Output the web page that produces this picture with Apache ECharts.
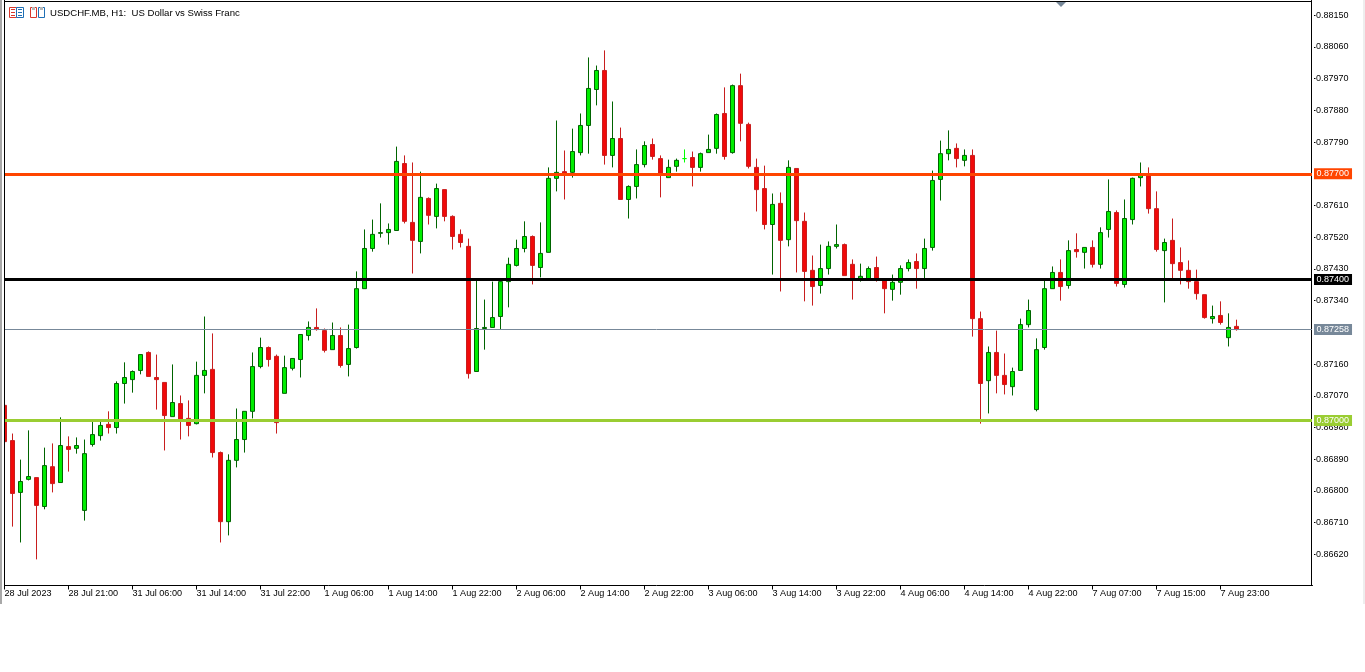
<!DOCTYPE html>
<html><head><meta charset="utf-8">
<style>html,body{margin:0;padding:0;background:#fff}#c{width:1365px;height:672px}</style>
<script src="https://cdn.jsdelivr.net/npm/echarts@6/dist/echarts.min.js"></script>
</head><body><div id="c"></div>
<script>
// prices in 1e-5 points
const opens=[87043,86943,86796,86833,86838,86756,86869,86824,86926,86921,86745,86932,86957,86989,86980,87105,87116,87142,87193,87122,87108,87011,87048,87006,86991,87128,87145,86909,86713,86887,86946,87026,87153,87207,87182,87077,87148,87173,87241,87264,87255,87201,87241,87159,87207,87374,87488,87531,87533,87539,87729,87562,87508,87630,87579,87655,87579,87528,87494,87139,87261,87264,87295,87394,87440,87488,87522,87434,87477,87687,87706,87704,87760,87837,87939,87993,87752,87800,87627,87664,87726,87783,87743,87689,87721,87743,87746,87718,87760,87772,87871,87760,87950,87840,87718,87658,87556,87616,87513,87715,87565,87426,87383,87431,87494,87499,87443,87400,87400,87434,87400,87372,87392,87431,87451,87431,87491,87684,87757,87772,87738,87752,87289,87113,87193,87128,87096,87142,87272,87031,87207,87374,87420,87383,87485,87477,87491,87443,87542,87590,87386,87570,87689,87700,87601,87482,87511,87448,87426,87394,87357,87289,87298,87235,87267];
const closes=[86940,86793,86827,86841,86759,86872,86821,86929,86918,86929,86906,86960,86986,86980,87105,87122,87139,87187,87125,87116,87014,87051,87000,86986,87128,87142,86909,86713,86887,86946,87026,87153,87207,87173,86994,87150,87176,87244,87264,87258,87199,87241,87156,87204,87374,87488,87528,87533,87542,87735,87565,87511,87633,87582,87658,87579,87522,87505,87133,87261,87264,87292,87394,87443,87488,87522,87440,87474,87687,87704,87695,87763,87837,87942,87993,87752,87800,87627,87664,87726,87780,87749,87698,87718,87738,87743,87718,87757,87769,87868,87749,87950,87843,87721,87655,87556,87613,87511,87718,87567,87423,87380,87431,87494,87499,87411,87400,87409,87431,87400,87374,87392,87431,87448,87431,87488,87681,87757,87769,87743,87752,87289,87105,87193,87128,87102,87139,87272,87312,87201,87374,87420,87380,87482,87479,87491,87443,87533,87593,87389,87573,87687,87700,87601,87485,87505,87445,87426,87394,87360,87292,87295,87278,87264,87258];
const highs=[87043,86963,86889,86972,86838,86923,86935,87009,86955,86952,86946,87000,86997,87026,87111,87165,87142,87187,87196,87187,87108,87159,87071,87057,87167,87295,87247,86912,86904,87034,87026,87193,87235,87210,87187,87184,87176,87244,87281,87318,87261,87278,87264,87272,87423,87542,87570,87616,87559,87777,87752,87732,87706,87633,87672,87655,87582,87542,87516,87397,87343,87394,87400,87462,87513,87565,87525,87562,87718,87851,87766,87828,87871,88030,88007,88050,87905,87831,87667,87769,87792,87800,87752,87740,87743,87769,87763,87760,87811,87871,87945,87953,87984,87845,87743,87723,87644,87647,87738,87715,87590,87468,87499,87508,87556,87502,87457,87445,87437,87465,87400,87414,87440,87457,87474,87516,87709,87794,87823,87786,87769,87769,87309,87210,87255,87190,87150,87289,87343,87233,87397,87437,87457,87511,87531,87491,87511,87548,87684,87596,87627,87689,87732,87718,87650,87516,87573,87491,87454,87428,87357,87326,87338,87304,87286];
const lows=[86940,86699,86654,86830,86606,86748,86796,86824,86855,86906,86716,86926,86943,86963,86963,87048,87079,87131,87125,87031,86915,87011,86946,86955,86989,87077,86895,86654,86674,86867,86909,87006,87148,87153,86963,87077,87142,87122,87227,87255,87193,87201,87150,87125,87204,87374,87479,87519,87499,87539,87559,87417,87474,87556,87545,87565,87485,87491,87119,87139,87201,87264,87258,87321,87437,87477,87386,87406,87477,87650,87627,87689,87752,87757,87894,87726,87718,87627,87573,87630,87718,87740,87633,87689,87706,87732,87664,87706,87760,87757,87740,87757,87792,87715,87593,87542,87414,87366,87494,87420,87338,87326,87360,87414,87488,87411,87343,87394,87397,87394,87304,87340,87357,87423,87374,87400,87482,87624,87738,87718,87721,87238,86991,87020,87077,87074,87071,87142,87264,87026,87201,87374,87340,87374,87462,87431,87434,87431,87519,87380,87377,87556,87664,87587,87479,87335,87403,87386,87374,87343,87289,87275,87272,87210,87255];

const xTickLabels=['28 Jul 2023','28 Jul 21:00','31 Jul 06:00','31 Jul 14:00','31 Jul 22:00','1 Aug 06:00','1 Aug 14:00','1 Aug 22:00','2 Aug 06:00','2 Aug 14:00','2 Aug 22:00','3 Aug 06:00','3 Aug 14:00','3 Aug 22:00','4 Aug 06:00','4 Aug 14:00','4 Aug 22:00','7 Aug 07:00','7 Aug 15:00','7 Aug 23:00'];
const yTicks=[0.8815,0.8806,0.8797,0.8788,0.8779,0.877,0.8761,0.8752,0.8743,0.8734,0.8725,0.8716,0.8707,0.8698,0.8689,0.868,0.8671,0.8662];
const levelPrices=[0.87,0.87258,0.874,0.877];
const levelColors=['#9acd32','#778899','#000000','#ff4500'];
const levelWidths=[3,1,3,3];
const title='USDCHF.MB, H1:  US Dollar vs Swiss Franc';
const barSlots=164, labelEvery=8;

const categories=Array.from({length:barSlots},(_,i)=>i%labelEvery===0?(xTickLabels[i/labelEvery]||''):'');
const candles=opens.map((o,i)=>[o/1e5,closes[i]/1e5,lows[i]/1e5,highs[i]/1e5]);
const FONT='"Liberation Sans"';
const rect=(x,y,w,h,fill)=>({type:'rect',shape:{x,y,width:w,height:h},style:{fill},z:100,silent:true});
const box=(x,y,w,h,stroke)=>({type:'rect',shape:{x:x+.5,y:y+.5,width:w-1,height:h-1},style:{fill:'#fff',stroke,lineWidth:1},z:100,silent:true});

const chart=echarts.init(document.getElementById('c'),null,{renderer:'canvas'});
chart.setOption({
  animation:false,
  backgroundColor:'#fff',
  grid:{left:0.5,top:0.5,width:1312,height:585,containLabel:false},
  xAxis:{type:'category',data:categories,boundaryGap:true,
    axisLine:{show:true,lineStyle:{color:'#000',width:1}},
    axisTick:{show:true,alignWithLabel:true,interval:i=>i%labelEvery===0&&!!categories[i],length:4,lineStyle:{color:'#000'}},
    axisLabel:{interval:labelEvery-1,hideOverlap:false,showMinLabel:true,align:'left',margin:3,color:'#000',fontFamily:FONT,fontSize:9.1},
    splitLine:{show:false}},
  yAxis:{type:'value',position:'right',offset:-1,min:0.865319,max:0.881915,scale:true,
    axisLine:{show:true,onZero:false,lineStyle:{color:'#000',width:1}},
    axisTick:{show:true,length:4,customValues:yTicks,lineStyle:{color:'#000'}},
    axisLabel:{customValues:yTicks,margin:4.5,color:'#000',fontFamily:FONT,fontSize:9,formatter:v=>v.toFixed(5)},
    splitLine:{show:false}},
  series:[{type:'candlestick',data:candles,barWidth:4,clip:false,
    itemStyle:{color:'#00ee00',color0:'#f00a0a',borderColor:'#006400',borderColor0:'#c81e1e',borderColorDoji:'#00ff00',borderWidth:1},
    markLine:{silent:true,symbol:'none',animation:false,precision:5,
      data:levelPrices.map((p,i)=>({yAxis:p,
        lineStyle:{color:levelColors[i],width:levelWidths[i],type:'solid'},
        label:{show:true,position:'end',distance:1,formatter:p.toFixed(5),color:'#fff',backgroundColor:levelColors[i],padding:[1,3,1,3],fontFamily:FONT,fontSize:9}
      }))}}],
  graphic:[
    rect(0,0,2,604,'#a8a8a8'),
    rect(2,0,2,586,'#fff'),
    rect(4,0,1,586,'#000'),
    rect(4,1,1308,1,'#000'),
    rect(1312,2,2,583,'#fff'),
    rect(1363,0,2,604,'#eeeeee'),
    {type:'polygon',shape:{points:[[1056,2],[1066,2],[1061,7]]},style:{fill:'#778899'},z:100,silent:true},
    {type:'text',style:{text:title,x:50,y:8,fill:'#000',font:'9.6px '+FONT},z:100,silent:true},
    box(9,7,8,11,'#d9372c'),rect(11,9,4,1,'#d9372c'),rect(11,12,4,1,'#d9372c'),rect(11,15,4,1,'#d9372c'),
    box(16,7,8,11,'#1f6fb5'),rect(18,9,4,1,'#1f6fb5'),rect(18,12,4,1,'#1f6fb5'),rect(18,15,4,1,'#1f6fb5'),
    box(30,7,7,11,'#d9372c'),rect(32,7,3,3,'#b8b8b8'),
    box(38,7,7,11,'#1f6fb5'),rect(40,7,3,3,'#b8b8b8')
  ]
});
</script></body></html>
